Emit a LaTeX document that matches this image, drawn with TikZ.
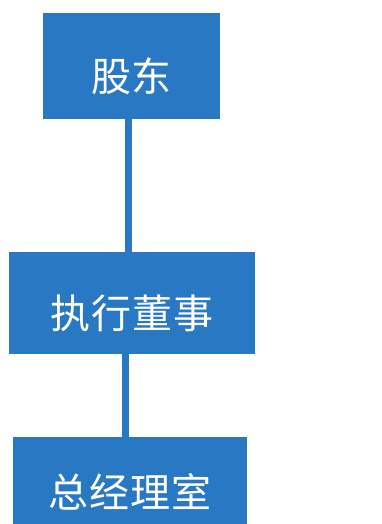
\documentclass[tikz,border=0pt]{standalone}
\usepackage{fontspec}
\newfontfamily\cjk[LetterSpace=2]{Noto Sans CJK SC}
\definecolor{orgblue}{RGB}{40,120,196}

\begin{document}
\begin{tikzpicture}[x=1pt, y=-1pt,
	orgbox/.style={fill=orgblue, draw=none, text=white, inner sep=0pt,
		font=\cjk\fontsize{40}{44}\selectfont,
		text height=55pt, text depth=4pt},
	orgline/.style={draw=orgblue, line width=7pt}]

% page
\useasboundingbox (0,0) rectangle (382,524);

% boxes
\node[orgbox, minimum width=177pt, minimum height=106pt] (gd) at (131.5,66) {股东};
\node[orgbox, minimum width=246pt, minimum height=102pt] (zx) at (132,303) {执行董事};
\node[orgbox, minimum width=234pt, minimum height=90pt] (zj) at (130,482) {总经理室};

% connectors
\draw[orgline] ([xshift=-3.5pt]gd.south) -- ([xshift=-3.5pt, yshift=-1.5pt]gd.south |- zx.north);
\draw[orgline] ([xshift=-6.5pt]zx.south) -- ([xshift=-6.5pt, yshift=-2pt]zx.south |- zj.north);

\end{tikzpicture}
\end{document}
